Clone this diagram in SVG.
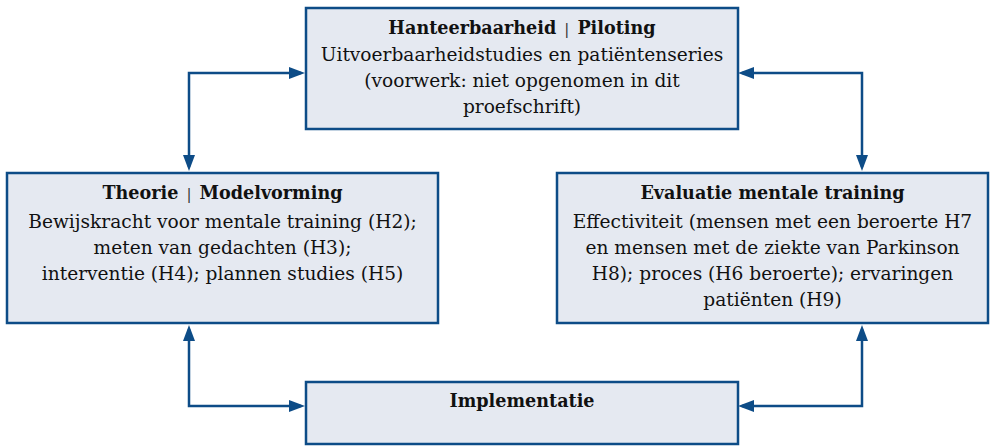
<svg xmlns="http://www.w3.org/2000/svg" width="990" height="446" viewBox="0 0 990 446">
  <style>
    .box { fill: #e5e9f1; stroke: #0d4c87; stroke-width: 2.5; }
    .t { font-family: "DejaVu Serif", serif; font-size: 18.6px; fill: #111111; text-anchor: middle; }
    .b { font-weight: bold; font-size: 17.6px; }
    .sep { font-weight: normal; fill: #333333; font-size: 15px; }
    .conn { fill: none; stroke: #0d4c87; stroke-width: 2.5; marker-start: url(#ah); marker-end: url(#ah); }
  </style>
  <defs>
    <marker id="ah" viewBox="0 0 16 12" refX="12" refY="6" markerWidth="16" markerHeight="12" markerUnits="userSpaceOnUse" orient="auto-start-reverse">
      <path d="M0,0 L16,6 L0,12 z" fill="#0d4c87"/>
    </marker>
  </defs>
  <rect width="990" height="446" fill="#ffffff"/>

  <g id="connectors">
    <path class="conn" d="M189,167 L189,73 L301,73"/>
    <path class="conn" d="M742,73 L862,73 L862,167"/>
    <path class="conn" d="M189,329 L189,406 L301,406"/>
    <path class="conn" d="M862,329 L862,406 L742,406"/>
  </g>

  <g id="node-piloting">
    <rect class="box" x="306" y="8" width="432" height="121"/>
    <text class="t" x="522" y="34"><tspan class="b">Hanteerbaarheid</tspan><tspan class="sep" dx="8">|</tspan><tspan class="b" dx="8">Piloting</tspan></text>
    <text class="t" x="522" y="61">Uitvoerbaarheidstudies en patiëntenseries</text>
    <text class="t" x="522" y="87">(voorwerk: niet opgenomen in dit</text>
    <text class="t" x="522" y="113">proefschrift)</text>
  </g>

  <g id="node-theorie">
    <rect class="box" x="7" y="173" width="431" height="150"/>
    <text class="t" x="222.5" y="199"><tspan class="b">Theorie</tspan><tspan class="sep" dx="8">|</tspan><tspan class="b" dx="8">Modelvorming</tspan></text>
    <text class="t" x="222.5" y="228">Bewijskracht voor mentale training (H2);</text>
    <text class="t" x="222.5" y="254">meten van gedachten (H3);</text>
    <text class="t" x="222.5" y="280">interventie (H4); plannen studies (H5)</text>
  </g>

  <g id="node-evaluatie">
    <rect class="box" x="557" y="173" width="431" height="150"/>
    <text class="t b" x="772.5" y="199">Evaluatie mentale training</text>
    <text class="t" x="772.5" y="228">Effectiviteit (mensen met een beroerte H7</text>
    <text class="t" x="772.5" y="254">en mensen met de ziekte van Parkinson</text>
    <text class="t" x="772.5" y="280">H8); proces (H6 beroerte); ervaringen</text>
    <text class="t" x="772.5" y="306">patiënten (H9)</text>
  </g>

  <g id="node-implementatie">
    <rect class="box" x="306" y="382" width="432" height="62"/>
    <text class="t b" x="522" y="407">Implementatie</text>
  </g>
</svg>
